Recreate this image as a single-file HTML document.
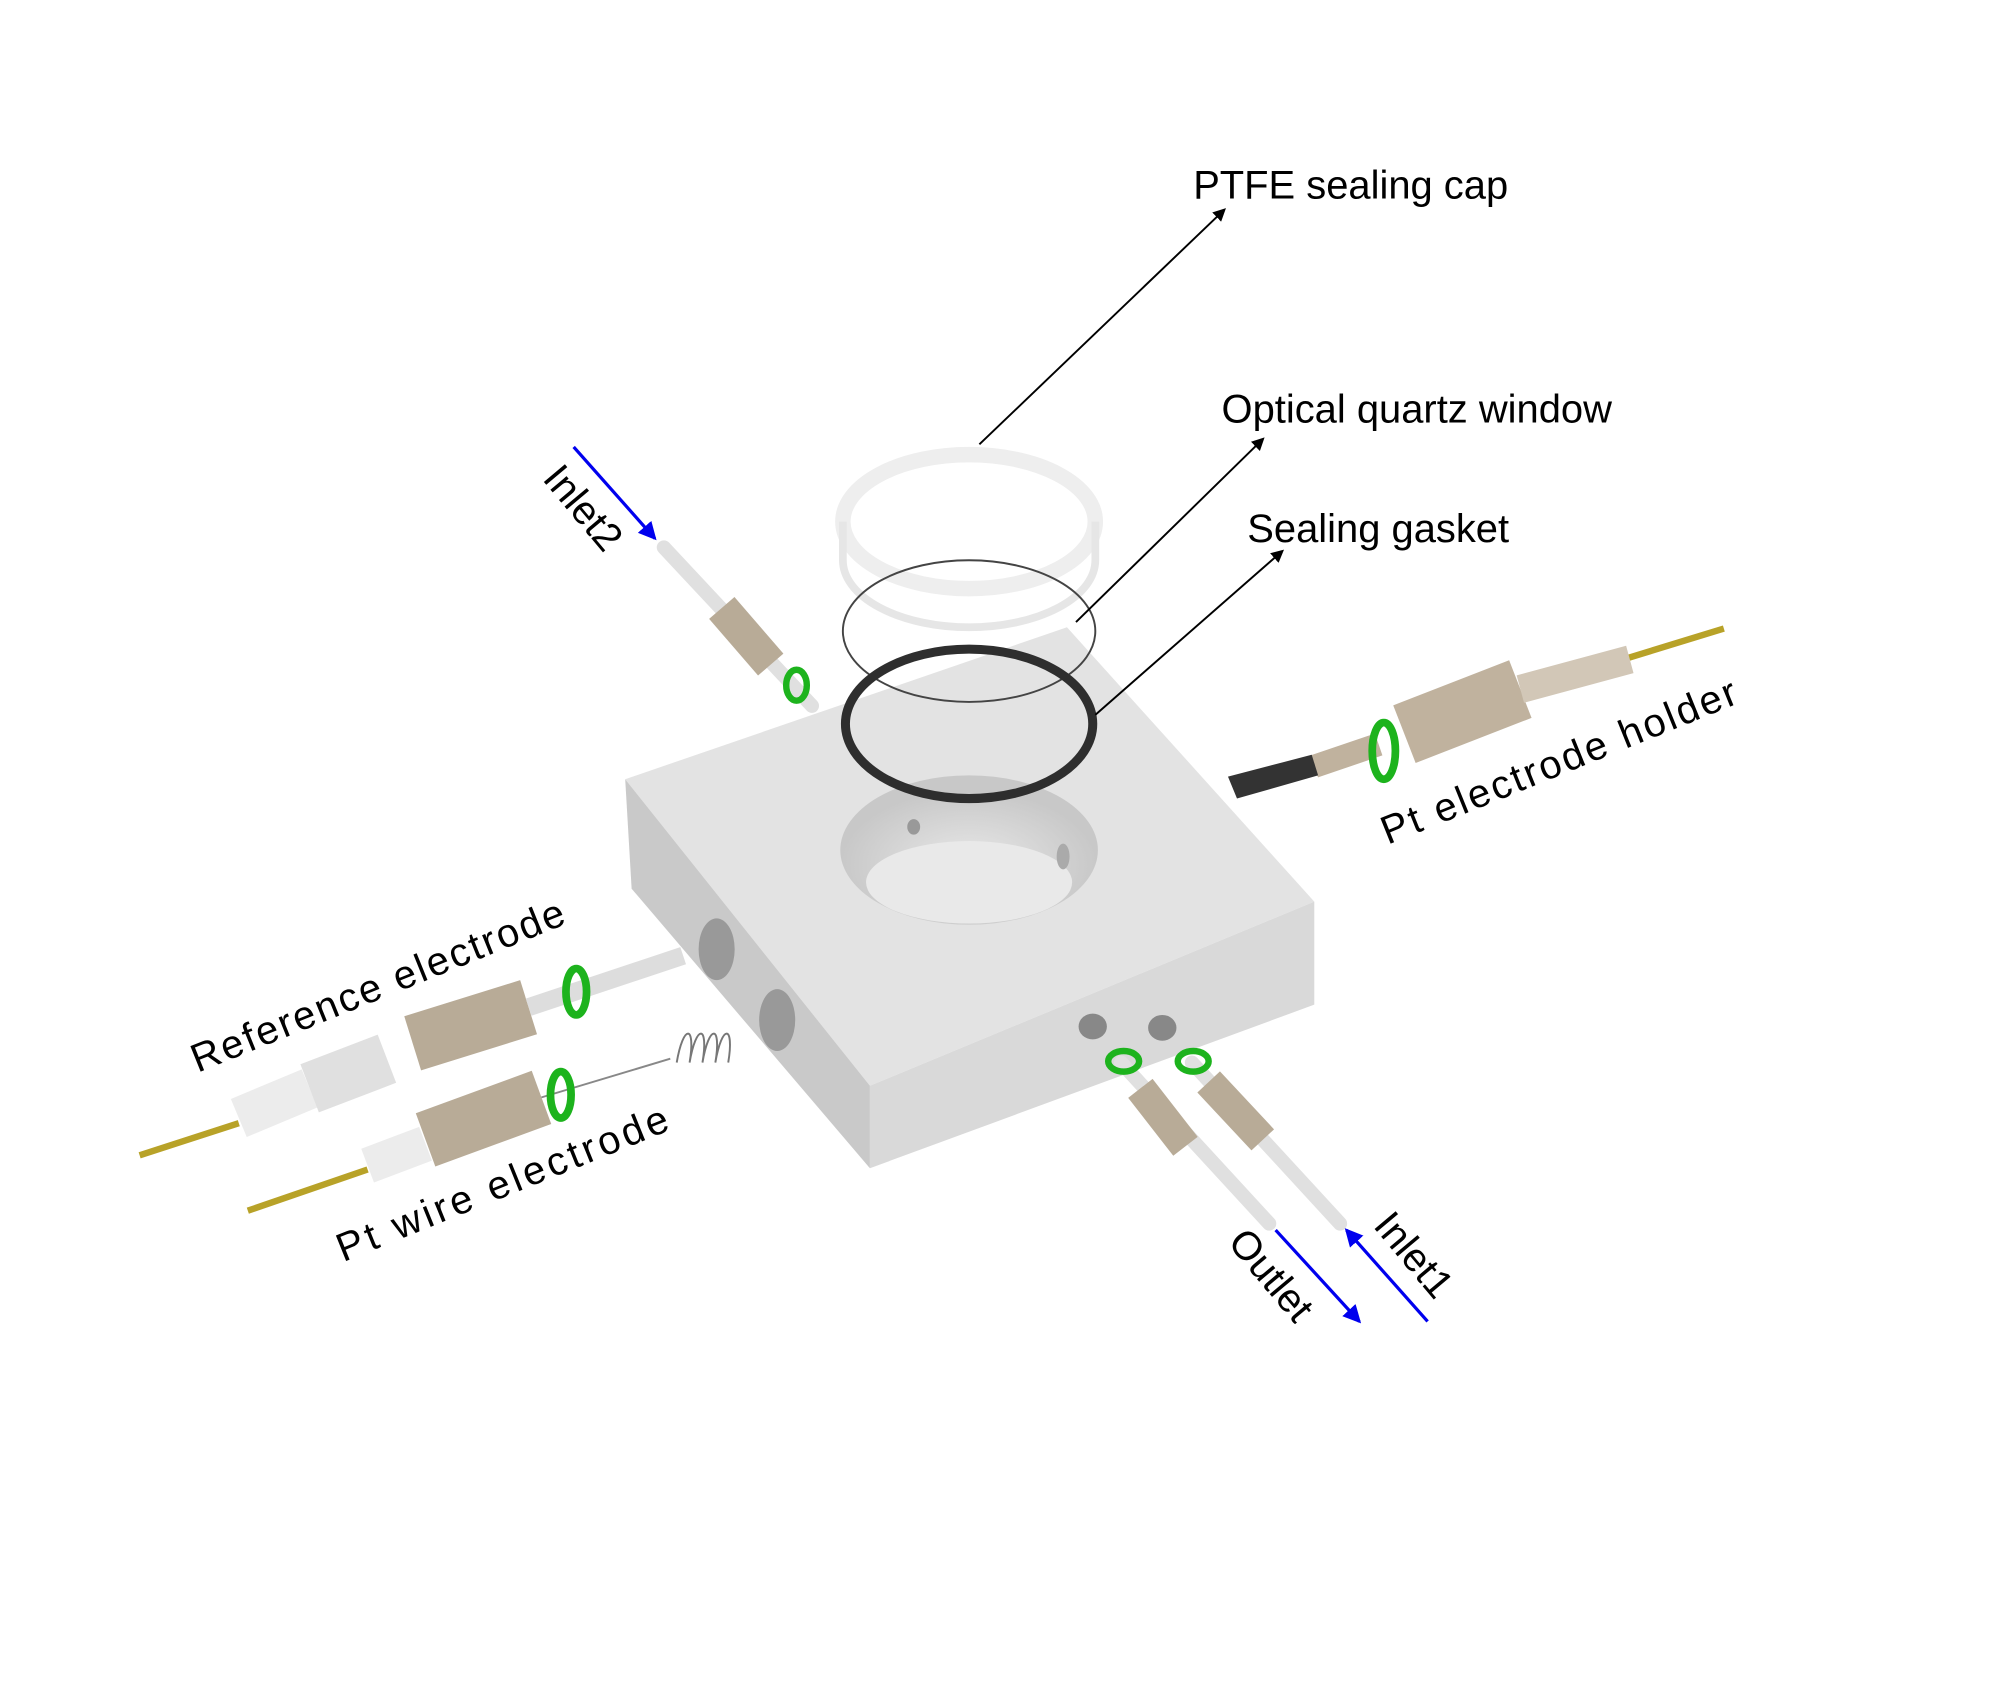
<!DOCTYPE html>
<html><head><style>html,body{margin:0;padding:0;background:#fff}svg{display:block}
text{font-family:"Liberation Sans","DejaVu Sans",sans-serif;fill:#000}</style></head>
<body>
<svg width="2000" height="1695" viewBox="0 0 1552 1316" xmlns="http://www.w3.org/2000/svg">
<defs>
<marker id="ak" markerWidth="10" markerHeight="10" refX="8" refY="5" orient="auto" markerUnits="userSpaceOnUse"><path d="M0,0 L10,5 L0,10 z" fill="#000"/></marker>
<marker id="ab" markerWidth="14" markerHeight="14" refX="12" refY="7" orient="auto" markerUnits="userSpaceOnUse"><path d="M0,0 L14,7 L0,14 z" fill="#0000ee"/></marker>
<radialGradient id="hole" cx="50%" cy="60%" r="50%"><stop offset="0" stop-color="#e8e8e8"/><stop offset="1" stop-color="#c8c8c8"/></radialGradient>
</defs>
<polygon points="485,605 828,487 1020,700 675,843" fill="#e3e3e3"/>
<polygon points="485,605 675,843 675,907 490,690" fill="#c9c9c9"/>
<polygon points="675,843 1020,700 1020,780 675,907" fill="#d9d9d9"/>
<ellipse cx="752" cy="660" rx="100" ry="58" fill="url(#hole)"/>
<ellipse cx="752" cy="685" rx="80" ry="32" fill="#e9e9e9"/>
<ellipse cx="709" cy="642" rx="5" ry="6" fill="#999"/>
<ellipse cx="825" cy="665" rx="5" ry="10" fill="#aaa"/>
<ellipse cx="556" cy="737" rx="14" ry="24" fill="#999"/>
<ellipse cx="603" cy="792" rx="14" ry="24" fill="#999"/>
<ellipse cx="848" cy="797" rx="11" ry="10" fill="#888"/>
<ellipse cx="902" cy="798" rx="11" ry="10" fill="#888"/>
<ellipse cx="752" cy="405" rx="98" ry="52" fill="none" stroke="#eee" stroke-width="12"/>
<path d="M654,405 v30 a98,52 0 0 0 196,0 v-30" fill="none" stroke="#e6e6e6" stroke-width="6"/>
<ellipse cx="752" cy="490" rx="98" ry="55" fill="none" stroke="#444" stroke-width="1.5"/>
<ellipse cx="752" cy="562" rx="96" ry="58" fill="none" stroke="#2e2e2e" stroke-width="7"/>
<line x1="515" y1="425" x2="630" y2="548" stroke="#e0e0e0" stroke-width="11" stroke-linecap="round"/>
<line x1="560" y1="472" x2="598" y2="516" stroke="#b8ab97" stroke-width="26"/>
<ellipse cx="618" cy="532" rx="8" ry="12" fill="none" stroke="#1db31d" stroke-width="5"/>
<line x1="1250" y1="515" x2="1338" y2="488" stroke="#b8a228" stroke-width="5"/>
<line x1="1090" y1="570" x2="1180" y2="535" stroke="#c0b29e" stroke-width="48"/>
<line x1="1180" y1="535" x2="1265" y2="512" stroke="#d2c7b7" stroke-width="22"/>
<line x1="1020" y1="595" x2="1070" y2="578" stroke="#c0b29e" stroke-width="18"/>
<ellipse cx="1074" cy="583" rx="9" ry="22" fill="none" stroke="#1db31d" stroke-width="6"/>
<polygon points="953,603 1018,586 1023,602 960,620" fill="#333"/>
<line x1="108" y1="897" x2="185" y2="872" stroke="#b8a228" stroke-width="5"/>
<line x1="185" y1="868" x2="240" y2="845" stroke="#ececec" stroke-width="32"/>
<line x1="240" y1="845" x2="300" y2="822" stroke="#e0e0e0" stroke-width="40"/>
<line x1="320" y1="810" x2="410" y2="782" stroke="#b8ab97" stroke-width="44"/>
<line x1="410" y1="782" x2="530" y2="742" stroke="#ddd" stroke-width="14"/>
<ellipse cx="447" cy="770" rx="8" ry="18" fill="none" stroke="#1db31d" stroke-width="6"/>
<line x1="192" y1="940" x2="285" y2="908" stroke="#b8a228" stroke-width="5"/>
<line x1="285" y1="905" x2="330" y2="888" stroke="#ececec" stroke-width="28"/>
<line x1="330" y1="885" x2="420" y2="852" stroke="#b8ab97" stroke-width="44"/>
<line x1="420" y1="852" x2="520" y2="822" stroke="#888" stroke-width="1.5"/>
<ellipse cx="435" cy="850" rx="8" ry="18" fill="none" stroke="#1db31d" stroke-width="6"/>
<path d="M525,825 c5,-30 15,-30 10,0 c5,-30 15,-30 10,0 c5,-30 15,-30 10,0 c5,-30 15,-30 10,0" fill="none" stroke="#777" stroke-width="1.5"/>
<line x1="870" y1="825" x2="985" y2="950" stroke="#e0e0e0" stroke-width="11" stroke-linecap="round"/>
<line x1="925" y1="825" x2="1040" y2="950" stroke="#e0e0e0" stroke-width="11" stroke-linecap="round"/>
<line x1="885" y1="845" x2="920" y2="890" stroke="#b8ab97" stroke-width="24"/>
<line x1="938" y1="840" x2="980" y2="885" stroke="#b8ab97" stroke-width="24"/>
<ellipse cx="872" cy="824" rx="12" ry="8" fill="none" stroke="#1db31d" stroke-width="5"/>
<ellipse cx="926" cy="824" rx="12" ry="8" fill="none" stroke="#1db31d" stroke-width="5"/>
<line x1="760" y1="345" x2="950" y2="163" stroke="#000" stroke-width="1.5" marker-end="url(#ak)"/>
<line x1="835" y1="483" x2="980" y2="341" stroke="#000" stroke-width="1.5" marker-end="url(#ak)"/>
<line x1="850" y1="555" x2="995" y2="428" stroke="#000" stroke-width="1.5" marker-end="url(#ak)"/>
<line x1="445" y1="347" x2="508" y2="418" stroke="#0000ee" stroke-width="2.5" marker-end="url(#ab)"/>
<line x1="990" y1="955" x2="1055" y2="1026" stroke="#0000ee" stroke-width="2.5" marker-end="url(#ab)"/>
<line x1="1108" y1="1026" x2="1045" y2="955" stroke="#0000ee" stroke-width="2.5" marker-end="url(#ab)"/>
<text x="926" y="154" font-size="31">PTFE sealing cap</text>
<text x="948" y="328" font-size="31">Optical quartz window</text>
<text x="968" y="421" font-size="31">Sealing gasket</text>
<text transform="translate(153,833) rotate(-22)" font-size="31" textLength="310">Reference electrode</text>
<text transform="translate(266,980) rotate(-22)" font-size="31" textLength="275">Pt wire  electrode</text>
<text transform="translate(1077,656) rotate(-22)" font-size="31" textLength="295">Pt electrode holder</text>
<text transform="translate(420,372) rotate(50)" font-size="31">Inlet2</text>
<text transform="translate(952,965) rotate(50)" font-size="31">Outlet</text>
<text transform="translate(1065,952) rotate(50)" font-size="31">Inlet1</text>
</svg>
</body></html>
